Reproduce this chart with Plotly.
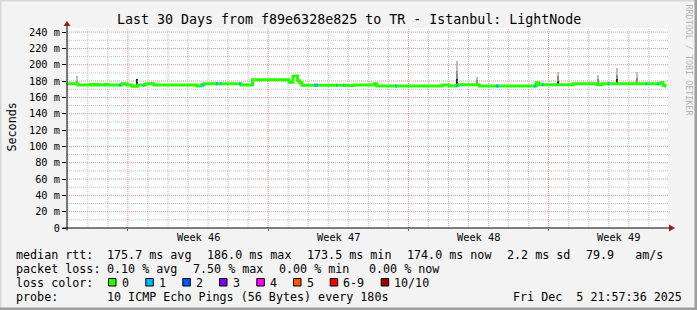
import numpy as np
import pandas as pd
import plotly.graph_objects as go

# ---------------- data ----------------
START = "2025-11-05 23:00"
END = "2025-12-05 23:00"
FIRST_SUNDAY = "2025-11-09"
FIRST_MIDNIGHT = "2025-11-06"

# median rtt as steps: start of each step (days after START), value (ms), lost pings (of 10)
seg_day = [0.00, 0.55, 1.15, 1.30, 1.45, 1.60, 1.90, 2.00, 2.60, 2.70, 2.75, 3.00, 3.24, 3.54,
           3.79, 3.87, 3.94, 4.34, 6.49, 6.69, 6.84, 7.44, 7.54, 7.64, 7.71, 8.59, 8.69, 9.26,
           11.08, 11.28, 11.51, 11.61, 11.73, 12.33, 12.53, 13.43, 13.50, 13.78, 13.85, 13.93,
           14.33, 15.33, 15.47, 16.37, 16.47, 18.72, 19.07, 19.42, 19.52, 20.57, 21.41, 21.56,
           23.31, 23.41, 23.56, 23.71, 23.79, 25.26, 26.46, 26.71, 27.01, 27.08, 28.88, 28.95,
           29.48, 29.55, 29.65, 29.75, 29.85, 29.93]
seg_median_ms = [176.7, 175.2, 175.7, 175.2, 175.7, 175.2, 175.7, 175.2, 175.2, 175.2, 176.7, 175.2, 173.7, 175.2,
                 175.2, 175.2, 176.7, 175.2, 174.0, 175.2, 176.7, 176.7, 176.7, 176.7, 176.7, 176.7, 175.2, 181.6,
                 178.6, 186.1, 180.5, 177.8, 175.0, 175.0, 175.0, 175.0, 175.0, 175.0, 175.0, 174.5,
                 175.2, 176.7, 174.0, 174.0, 174.0, 175.3, 174.0, 174.5, 175.5, 174.0, 174.0, 174.0,
                 174.0, 178.0, 175.5, 175.5, 175.5, 176.7, 175.5, 176.7, 176.7, 176.7, 176.7, 176.7,
                 176.7, 176.7, 178.0, 175.0, 174.0, 174.0]
seg_loss = [0, 0, 0, 0, 0, 0, 0, 0, 1, 0, 0, 0, 0, 0,
            1, 0, 0, 0, 0, 1, 0, 1, 0, 1, 0, 1, 0, 0,
            0, 0, 0, 0, 0, 1, 0, 1, 0, 1, 0, 0,
            0, 0, 0, 1, 0, 0, 0, 1, 0, 0, 1, 0,
            1, 0, 0, 1, 0, 0, 0, 0, 1, 0, 1, 0,
            1, 0, 0, 0, 0, 0]

# smoke (spread of the 10 pings) where it is visible: bottom, dark core top, mid top, highest ping
smoke_day = [0.50, 3.49, 9.26, 11.28, 19.47, 20.47, 24.51, 26.51, 27.46, 28.46, 29.85]
smoke_low_ms = [176.0, 174.5, 175.5, 179.5, 176.0, 175.0, 175.0, 176.0, 176.0, 176.0, 174.0]
smoke_dark_ms = [176.0, 182.0, 182.0, 187.0, 183.0, 177.0, 180.0, 177.0, 182.0, 177.0, 176.5]
smoke_mid_ms = [180.0, 182.0, 182.0, 187.0, 192.0, 181.0, 186.0, 182.0, 188.0, 184.0, 176.5]
smoke_high_ms = [186.5, 182.5, 182.0, 187.0, 205.0, 184.5, 191.4, 187.3, 196.0, 191.4, 176.5]

week_mid = ["2025-11-12 12:00", "2025-11-19 12:00", "2025-11-26 12:00", "2025-12-03 12:00"]
week_text = ["Week 46", "Week 47", "Week 48", "Week 49"]

loss_labels = ["0", "1", "2", "3", "4", "5", "6-9", "10/10"]
loss_colors = ["#26ff00", "#00b8ff", "#0059ff", "#7e00ff", "#ff00ff", "#ff5500", "#ff0000", "#a00000"]

title_text = "Last 30 Days from f89e6328e825 to TR - Istanbul: LightNode"
row_median = ["median rtt:", "175.7 ms avg", "186.0 ms max", "173.5 ms min", "174.0 ms now", "2.2 ms sd", "79.9   am/s"]
row_loss = ["packet loss:", "0.10 % avg", "7.50 % max", "0.00 % min", "0.00 % now"]
row_probe = ["probe:", "10 ICMP Echo Pings (56 Bytes) every 180s", "Fri Dec  5 21:57:36 2025"]
watermark = "RRDTOOL / TOBI OETIKER"

# ---------------- layout helpers ----------------
MONO = "DejaVu Sans Mono"
W, H = 697, 310
PL, PR, PT, PB = 67, 668, 28, 228
Y_MAX = 245
def xp(px):
    return (px - PL) / (PR - PL)
def yp(py):
    return (PB - py) / (PB - PT)

t0 = pd.Timestamp(START)
def to_time(days):
    return [t0 + pd.Timedelta(days=float(d)) for d in days]

DAY_MS = 86400000
fig = go.Figure()

# ---------------- grid (as line traces, derived from the axis ranges) ----------------
RED_GRID = "#df9393"
GRAY_GRID = "#bfbfbf"
DOTS = "1px,1px"
midnights = pd.date_range(FIRST_MIDNIGHT, END, freq="D")

def grid_trace(vert_dates, horiz_vals, color):
    gx, gy = [], []
    for d in vert_dates:
        gx += [d, d, None]
        gy += [0, Y_MAX, None]
    for v in horiz_vals:
        gx += [pd.Timestamp(START), pd.Timestamp(END), None]
        gy += [v, v, None]
    fig.add_trace(go.Scatter(x=gx, y=gy, mode="lines", line=dict(color=color, width=1, dash=DOTS),
                             hoverinfo="skip", showlegend=False, cliponaxis=True))

grid_trace([d for d in midnights if d.dayofweek != 6], list(range(10, Y_MAX, 20)), GRAY_GRID)
grid_trace([d for d in midnights if d.dayofweek == 6], list(range(20, Y_MAX, 20)), RED_GRID)

# ---------------- smoke + median ----------------
px_per_day = (PR - PL) / 30.0
def px_to_ms(p):
    return p / px_per_day * DAY_MS

smoke_t = to_time(smoke_day)
def smoke_bar(top, color, width_px):
    fig.add_trace(go.Bar(x=smoke_t, y=np.subtract(top, smoke_low_ms), base=smoke_low_ms,
                         width=px_to_ms(width_px), marker=dict(color=color, line=dict(width=0)),
                         hoverinfo="skip", showlegend=False))

smoke_bar(smoke_high_ms, "#bdbdbd", 1.4)
smoke_bar(smoke_mid_ms, "#8c8c8c", 2.0)

seg_t = to_time(seg_day)
fig.add_trace(go.Scatter(x=seg_t, y=seg_median_ms, mode="lines",
                         line=dict(color=loss_colors[0], width=3, shape="hv"),
                         hoverinfo="skip", showlegend=False))
for lvl in sorted(set(seg_loss) - {0}):
    xs, ys = [], []
    for i in range(len(seg_day) - 1):
        if seg_loss[i] == lvl:
            xs += [seg_t[i], seg_t[i + 1], None]
            ys += [seg_median_ms[i], seg_median_ms[i], None]
    fig.add_trace(go.Scatter(x=xs, y=ys, mode="lines",
                             line=dict(color=loss_colors[lvl], width=3),
                             hoverinfo="skip", showlegend=False))

smoke_bar(smoke_dark_ms, "#262626", 1.4)

fig.update_layout(
    width=W, height=H,
    margin=dict(l=PL, r=W - PR, t=PT, b=H - PB, pad=0),
    paper_bgcolor="#f3f3f3", plot_bgcolor="#ffffff",
    barmode="overlay", bargap=0,
    font=dict(family=MONO, color="#000000"),
    xaxis=dict(type="date", range=[START, END], tickmode="linear", tick0=FIRST_SUNDAY, dtick=7 * DAY_MS,
               showticklabels=False, ticks="outside", ticklen=2, tickcolor="#d04040",
               showgrid=False, zeroline=False, showline=False),
    yaxis=dict(range=[0, Y_MAX], tickmode="linear", tick0=0, dtick=20,
               ticksuffix=" m", labelalias={"0 m": "0"},
               ticks="outside", ticklen=4, tickcolor="#000000", tickwidth=1,
               showgrid=False, zeroline=False, showline=False,
               tickfont=dict(family=MONO, size=10.3, color="#000000")),
)

shapes = []
ARROW = "#931c1c"
shapes.append(dict(type="line", xref="paper", yref="paper", x0=xp(67), x1=xp(67), y0=yp(230.5), y1=yp(25),
                   line=dict(color="#000000", width=1)))
shapes.append(dict(type="line", xref="paper", yref="paper", x0=xp(62.5), x1=xp(670), y0=yp(228), y1=yp(228),
                   line=dict(color="#000000", width=1)))
shapes.append(dict(type="path", xref="paper", yref="paper",
                   path=f"M {xp(63.5)},{yp(26)} L {xp(67)},{yp(21)} L {xp(70.5)},{yp(26)} Z",
                   fillcolor=ARROW, line=dict(width=0)))
shapes.append(dict(type="path", xref="paper", yref="paper",
                   path=f"M {xp(669)},{yp(224.5)} L {xp(675)},{yp(228)} L {xp(669)},{yp(231.5)} Z",
                   fillcolor=ARROW, line=dict(width=0)))
shapes.append(dict(type="rect", xref="paper", yref="paper", x0=xp(0), x1=xp(697), y0=yp(0), y1=yp(1.5),
                   fillcolor="#d8d8d8", line=dict(width=0)))
shapes.append(dict(type="rect", xref="paper", yref="paper", x0=xp(0), x1=xp(1.5), y0=yp(0), y1=yp(310),
                   fillcolor="#d8d8d8", line=dict(width=0)))
shapes.append(dict(type="rect", xref="paper", yref="paper", x0=xp(694.5), x1=xp(697), y0=yp(0), y1=yp(310),
                   fillcolor="#9e9e9e", line=dict(width=0)))
shapes.append(dict(type="rect", xref="paper", yref="paper", x0=xp(0), x1=xp(697), y0=yp(307.5), y1=yp(310),
                   fillcolor="#9e9e9e", line=dict(width=0)))
swatch_x = [108.5, 145.8, 182.8, 219.5, 256.8, 293.5, 330.2, 381.2]
label_x = [121.5, 158.8, 195.8, 232.5, 269.8, 306.5, 343.2, 394.2]
for sx, col in zip(swatch_x, loss_colors):
    shapes.append(dict(type="rect", xref="paper", yref="paper", x0=xp(sx), x1=xp(sx + 7.5),
                       y0=yp(286), y1=yp(278.5), fillcolor=col, line=dict(color="#000000", width=1)))
fig.update_layout(shapes=shapes)

ann = []
def text(px, py, s, size=11.7, anchor="left", color="#000000", angle=0, xref="paper"):
    ann.append(dict(xref=xref, yref="paper", x=(px if xref == "x" else xp(px)), y=yp(py),
                    text=s.replace(" ", "\u00a0"),
                    showarrow=False, xanchor=anchor, yanchor="middle", textangle=angle,
                    borderpad=0, borderwidth=0,
                    font=dict(family=MONO, size=size, color=color)))

text(348.5, 19, title_text, size=13.3, anchor="center")
text(11.5, 127, "Seconds", size=11.7, anchor="center", angle=-90)
text(688, 60.5, watermark, size=8.4, anchor="center", color="#b4b4b4", angle=90)
for wm, wt in zip(week_mid, week_text):
    text(wm, 237, wt, size=10.3, anchor="center", xref="x")

LEG_Y = [254.5, 268.5, 282.5, 296.5]
for s, px in zip(row_median, [16, 107.3, 207.3, 306.5, 407.3, 507.3, 586]):
    text(px, LEG_Y[0], s)
for s, px in zip(row_loss, [16, 107.3, 193.3, 279.3, 369.3]):
    text(px, LEG_Y[1], s)
text(16, LEG_Y[2], "loss color:")
for s, px in zip(loss_labels, label_x):
    text(px, LEG_Y[2], s)
for s, px in zip(row_probe, [16, 107.3, 513.3]):
    text(px, LEG_Y[3], s)
fig.update_layout(annotations=ann)

fig.write_html("out.html")
